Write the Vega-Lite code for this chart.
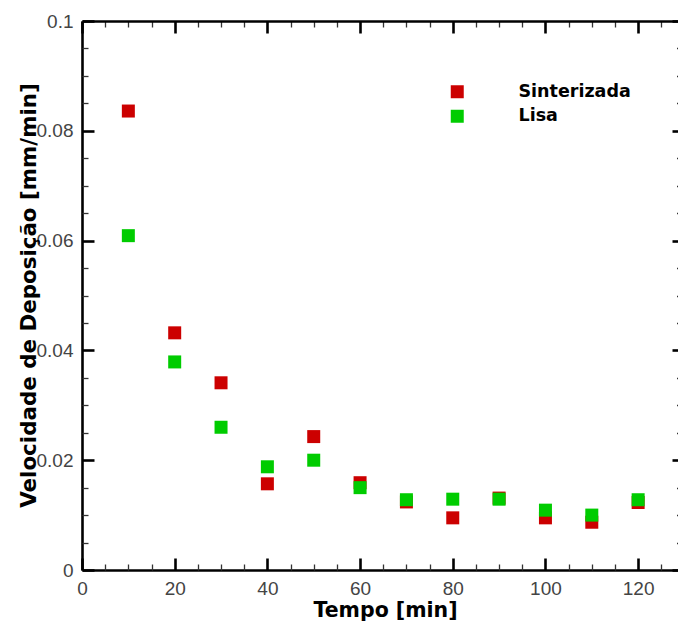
{
  "$schema": "https://vega.github.io/schema/vega-lite/v6.json",
  "width": 596,
  "height": 549,
  "autosize": {"type": "none"},
  "padding": {"left": 82, "top": 21, "right": 0, "bottom": 51},
  "background": "white",
  "config": {"view": {"stroke": null}, "axis": {"grid": false}},
  "data": {
    "values": [
      {"tempo": 10, "vel": 0.0836, "serie": "Sinterizada"},
      {"tempo": 20, "vel": 0.0432, "serie": "Sinterizada"},
      {"tempo": 30, "vel": 0.0341, "serie": "Sinterizada"},
      {"tempo": 40, "vel": 0.0157, "serie": "Sinterizada"},
      {"tempo": 50, "vel": 0.0243, "serie": "Sinterizada"},
      {"tempo": 60, "vel": 0.0159, "serie": "Sinterizada"},
      {"tempo": 70, "vel": 0.0124, "serie": "Sinterizada"},
      {"tempo": 80, "vel": 0.0095, "serie": "Sinterizada"},
      {"tempo": 90, "vel": 0.0131, "serie": "Sinterizada"},
      {"tempo": 100, "vel": 0.0095, "serie": "Sinterizada"},
      {"tempo": 110, "vel": 0.0087, "serie": "Sinterizada"},
      {"tempo": 120, "vel": 0.0123, "serie": "Sinterizada"},
      {"tempo": 10, "vel": 0.0609, "serie": "Lisa"},
      {"tempo": 20, "vel": 0.0379, "serie": "Lisa"},
      {"tempo": 30, "vel": 0.0260, "serie": "Lisa"},
      {"tempo": 40, "vel": 0.0188, "serie": "Lisa"},
      {"tempo": 50, "vel": 0.0200, "serie": "Lisa"},
      {"tempo": 60, "vel": 0.0150, "serie": "Lisa"},
      {"tempo": 70, "vel": 0.0128, "serie": "Lisa"},
      {"tempo": 80, "vel": 0.0129, "serie": "Lisa"},
      {"tempo": 90, "vel": 0.0129, "serie": "Lisa"},
      {"tempo": 100, "vel": 0.0109, "serie": "Lisa"},
      {"tempo": 110, "vel": 0.0100, "serie": "Lisa"},
      {"tempo": 120, "vel": 0.0128, "serie": "Lisa"}
    ]
  },
  "layer": [
    {
      "mark": {"type": "square", "size": 169, "opacity": 1, "strokeWidth": 0},
      "encoding": {
        "x": {
          "field": "tempo", "type": "quantitative",
          "scale": {"domain": [0, 128.6], "nice": false, "zero": false},
          "axis": {
            "orient": "bottom",
            "values": [0, 20, 40, 60, 80, 100, 120],
            "title": "Tempo [min]",
            "titleFont": "DejaVu Sans", "titleFontSize": 20.5, "titleFontWeight": "bold", "titleColor": "black",
            "titleX": 303, "titleY": 46, "titleBaseline": "alphabetic", "titleAlign": "center",
            "domainColor": "black", "domainWidth": 2.6,
            "ticks": false, "labelPadding": 9,
            "labelExpr": "format(datum.value, '~g')",
            "labelFont": "Liberation Sans", "labelFontSize": 19, "labelColor": "#444444",
            "labelFlush": false, "labelOverlap": false, "labelBaseline": "top"
          }
        },
        "y": {
          "field": "vel", "type": "quantitative",
          "scale": {"domain": [0, 0.1], "nice": false, "zero": false},
          "axis": {
            "orient": "left",
            "values": [0, 0.02, 0.04, 0.06, 0.08, 0.1],
            "title": "Velocidade de Deposição [mm/min]",
            "titleFont": "DejaVu Sans", "titleFontSize": 21.4, "titleFontWeight": "bold", "titleColor": "black",
            "titleX": -47, "titleY": 274, "titleAngle": 270, "titleBaseline": "alphabetic", "titleAlign": "center",
            "domainColor": "black", "domainWidth": 2.6,
            "ticks": false, "labelPadding": 9,
            "labelExpr": "format(datum.value, '~g')",
            "labelFont": "Liberation Sans", "labelFontSize": 19, "labelColor": "#444444",
            "labelFlush": false, "labelOverlap": false, "labelBaseline": "middle", "labelAlign": "right"
          }
        },
        "color": {
          "field": "serie", "type": "nominal",
          "scale": {"domain": ["Sinterizada", "Lisa"], "range": ["#CC0000", "#00CC00"]},
          "legend": {
            "orient": "none", "legendX": 366.5, "legendY": 62, "title": null,
            "labelFont": "DejaVu Sans", "labelFontWeight": "bold", "labelFontSize": 17.5, "labelColor": "black",
            "labelOffset": 52.5, "rowPadding": 5.5, "padding": 0,
            "symbolType": "square", "symbolSize": 169, "symbolStrokeWidth": 0, "symbolOpacity": 1
          }
        }
      }
    },
    {
      "mark": {"type": "square", "size": 169, "opacity": 0},
      "encoding": {
        "x": {
          "field": "tempo", "type": "quantitative",
          "axis": {
            "orient": "bottom", "values": [0, 20, 40, 60, 80, 100, 120],
            "title": null, "labels": false, "domain": false,
            "offset": -12, "tickSize": 12, "tickWidth": 2.6, "tickColor": "black"
          }
        },
        "y": {
          "field": "vel", "type": "quantitative",
          "axis": {
            "orient": "left", "values": [0, 0.02, 0.04, 0.06, 0.08, 0.1],
            "title": null, "labels": false, "domain": false,
            "offset": -12, "tickSize": 12, "tickWidth": 2.6, "tickColor": "black"
          }
        }
      }
    },
    {
      "mark": {"type": "square", "size": 169, "opacity": 0},
      "encoding": {
        "x": {
          "field": "tempo", "type": "quantitative",
          "axis": {
            "orient": "bottom",
            "values": [5,10,15,25,30,35,45,50,55,65,70,75,85,90,95,105,110,115,125],
            "title": null, "labels": false, "domain": false,
            "offset": -6, "tickSize": 6, "tickWidth": 1.3, "tickColor": "#333333"
          }
        },
        "y": {
          "field": "vel", "type": "quantitative",
          "axis": {
            "orient": "left",
            "values": [0.005,0.01,0.015,0.025,0.03,0.035,0.045,0.05,0.055,0.065,0.07,0.075,0.085,0.09,0.095],
            "title": null, "labels": false, "domain": false,
            "offset": -6, "tickSize": 6, "tickWidth": 1.3, "tickColor": "#333333"
          }
        }
      }
    },
    {
      "mark": {"type": "square", "size": 169, "opacity": 0},
      "encoding": {
        "x": {
          "field": "tempo", "type": "quantitative",
          "axis": {
            "orient": "top", "values": [0, 20, 40, 60, 80, 100, 120],
            "title": null, "labels": false, "domain": false,
            "offset": -12, "tickSize": 12, "tickWidth": 2.6, "tickColor": "black"
          }
        },
        "y": {
          "field": "vel", "type": "quantitative",
          "axis": {
            "orient": "right", "values": [0, 0.02, 0.04, 0.06, 0.08, 0.1],
            "title": null, "labels": false, "domain": false,
            "offset": -6, "tickSize": 6, "tickWidth": 2.6, "tickColor": "black"
          }
        }
      }
    },
    {
      "mark": {"type": "square", "size": 169, "opacity": 0},
      "encoding": {
        "x": {
          "field": "tempo", "type": "quantitative",
          "axis": {
            "orient": "top",
            "values": [5,10,15,25,30,35,45,50,55,65,70,75,85,90,95,105,110,115,125],
            "title": null, "labels": false, "domain": false,
            "offset": -6, "tickSize": 6, "tickWidth": 1.3, "tickColor": "#333333"
          }
        },
        "y": {
          "field": "vel", "type": "quantitative",
          "axis": {
            "orient": "right",
            "values": [0.005,0.01,0.015,0.025,0.03,0.035,0.045,0.05,0.055,0.065,0.07,0.075,0.085,0.09,0.095],
            "title": null, "labels": false, "domain": false,
            "offset": -1.5, "tickSize": 1.5, "tickWidth": 1.3, "tickColor": "#333333"
          }
        }
      }
    },
    {
      "mark": {"type": "square", "size": 169, "opacity": 0},
      "encoding": {
        "x": {
          "field": "tempo", "type": "quantitative",
          "axis": {
            "orient": "top", "values": [0],
            "title": null, "labels": false, "ticks": false,
            "domainColor": "black", "domainWidth": 2.6
          }
        },
        "y": {"field": "vel", "type": "quantitative", "axis": null}
      }
    }
  ],
  "resolve": {"axis": {"x": "independent", "y": "independent"}}
}
